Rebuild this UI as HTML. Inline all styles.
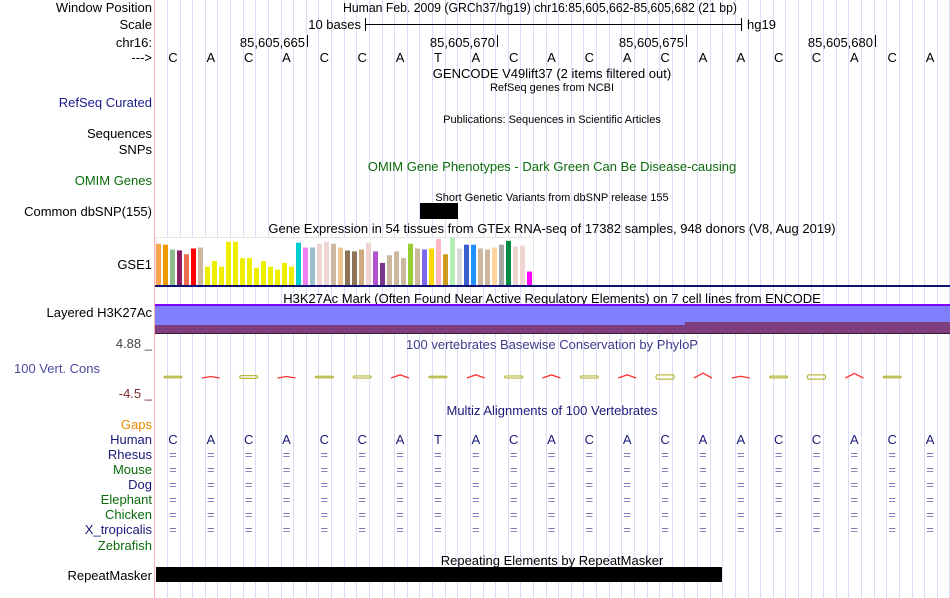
<!DOCTYPE html>
<html><head><meta charset="utf-8"><style>
body{margin:0;background:#fff;}
svg{display:block;font-family:"Liberation Sans",sans-serif;}
</style></head><body>
<svg id="c" width="950" height="598" viewBox="0 0 950 598" xmlns="http://www.w3.org/2000/svg">
<g id="grid"></g>
<line x1="154.5" y1="0" x2="154.5" y2="598" stroke="#ffb0b0" stroke-width="1"/>
<g font-size="13" text-anchor="end">
<text x="152" y="12">Window Position</text>
<text x="152" y="29">Scale</text>
<text x="152" y="47">chr16:</text>
<text x="152" y="62">---&gt;</text>
<text x="152" y="107" fill="#1a1a8c">RefSeq Curated</text>
<text x="152" y="138">Sequences</text>
<text x="152" y="154">SNPs</text>
<text x="152" y="185" fill="#0b6b0b">OMIM Genes</text>
<text x="152" y="216">Common dbSNP(155)</text>
<text x="152" y="269">GSE1</text>
<text x="152" y="317">Layered H3K27Ac</text>
<text x="152" y="348" fill="#444">4.88 _</text>
<text x="100" y="373" fill="#4a4aa0">100 Vert. Cons</text>
<text x="152" y="398" fill="#7a2a2a">-4.5 _</text>
<text x="152" y="429" fill="#ee8800">Gaps</text>
<text x="152" y="444" fill="#1a1a7a">Human</text>
<text x="152" y="459" fill="#1a1a7a">Rhesus</text>
<text x="152" y="474" fill="#0b6b0b">Mouse</text>
<text x="152" y="489" fill="#1a1a7a">Dog</text>
<text x="152" y="504" fill="#0b6b0b">Elephant</text>
<text x="152" y="519" fill="#0b6b0b">Chicken</text>
<text x="152" y="534" fill="#1a1a7a">X_tropicalis</text>
<text x="152" y="550" fill="#0b6b0b">Zebrafish</text>
<text x="152" y="580">RepeatMasker</text>
</g>
<g font-size="13" text-anchor="middle">
<text x="540" y="12" textLength="394" lengthAdjust="spacingAndGlyphs">Human Feb. 2009 (GRCh37/hg19) chr16:85,605,662-85,605,682 (21 bp)</text>
<text x="552" y="78">GENCODE V49lift37 (2 items filtered out)</text>
<text x="552" y="91" font-size="11">RefSeq genes from NCBI</text>
<text x="552" y="123" font-size="11">Publications: Sequences in Scientific Articles</text>
<text x="552" y="171" fill="#0b6b0b">OMIM Gene Phenotypes - Dark Green Can Be Disease-causing</text>
<text x="552" y="201" font-size="11">Short Genetic Variants from dbSNP release 155</text>
<text x="552" y="233">Gene Expression in 54 tissues from GTEx RNA-seq of 17382 samples, 948 donors (V8, Aug 2019)</text>
<text x="552" y="303">H3K27Ac Mark (Often Found Near Active Regulatory Elements) on 7 cell lines from ENCODE</text>
<text x="552" y="349" fill="#3c3c8c">100 vertebrates Basewise Conservation by PhyloP</text>
<text x="552" y="415" fill="#1a1a7a">Multiz Alignments of 100 Vertebrates</text>
<text x="552" y="565">Repeating Elements by RepeatMasker</text>
</g>
<g>
<text x="361" y="29" font-size="13" text-anchor="end">10 bases</text>
<line x1="365" y1="24.5" x2="741" y2="24.5" stroke="#000"/>
<line x1="365.5" y1="18" x2="365.5" y2="31" stroke="#000"/>
<line x1="741.5" y1="18" x2="741.5" y2="31" stroke="#000"/>
<text x="747" y="29" font-size="13">hg19</text>
</g>
<g id="ticks" font-size="13" text-anchor="end"></g>
<g id="seq" font-size="13" text-anchor="middle"></g>
<rect x="420" y="203" width="38" height="16" fill="#000"/>
<rect x="155.5" y="237.5" width="378" height="48" fill="#fff" stroke="#e6e6e6"/>
<g id="bars"></g>
<rect x="155" y="285" width="795" height="2" fill="#101070"/>
<g>
<rect x="155" y="304" width="795" height="2" fill="#8000ff"/>
<rect x="155" y="306" width="795" height="19" fill="#8080ff"/>
<rect x="155" y="325" width="530" height="8" fill="#7f3f7f"/>
<rect x="685" y="322" width="265" height="11" fill="#7f3f7f"/>
<rect x="155" y="333" width="795" height="1" fill="#3a1a2a"/>
</g>
<g id="cons"></g>
<g id="multiz" font-size="13" text-anchor="middle"></g>
<rect x="156" y="567" width="566" height="15" fill="#000"/>
</svg>
<script>
const bases = ["C","A","C","A","C","C","A","T","A","C","A","C","A","C","A","A","C","C","A","C","A"];
const tickLabels = ["85,605,665","85,605,670","85,605,675","85,605,680"];
const tickBaseIndex = [4,9,14,19];
const gtexValues = [43,42,37,36,32,38,39,19,25,19,45,45,28,28,18,25,19,16,23,19,44,39,39,43,45,43,39,36,35,37,44,35,23,31,35,28,43,38,37,38,48,32,49,38,42,42,38,37,39,42,46,40,41,14];
const gtexColors = ["#FFA54F","#EE9A00","#8FBC8F","#8B1C62","#EE6A50","#FF0000","#CDB79E","#EEEE00","#EEEE00","#EEEE00","#EEEE00","#EEEE00","#EEEE00","#EEEE00","#EEEE00","#EEEE00","#EEEE00","#EEEE00","#EEEE00","#EEEE00","#00CDCD","#EE82EE","#9AC0CD","#EED5D2","#EED5D2","#CDB79E","#EEC591","#8B7355","#8B7355","#CDAA7D","#EED5D2","#B452CD","#7A378B","#CDB79E","#CDB79E","#CDB79E","#9ACD32","#CDB79E","#7B68EE","#FFD700","#FFB6C1","#CD9B1D","#B4EEB4","#D9D9D9","#3A5FCD","#1E90FF","#CDB79E","#CDB79E","#FFD39B","#A6A6A6","#008B45","#EED5D2","#EED5D2","#FF00FF"];
const consValues = [0.3,0.3,0.8,0.3,0.3,0.6,0.9,0.4,0.9,0.6,0.9,0.6,0.9,1.2,1.4,0.5,0.5,1.2,1.3,0.3,0];
const speciesRows = ["Rhesus","Mouse","Dog","Elephant","Chicken","X_tropicalis"];

const NS="http://www.w3.org/2000/svg";
function mk(tag,attrs,parent){const e=document.createElementNS(NS,tag);for(const k in attrs)e.setAttribute(k,attrs[k]);parent.appendChild(e);return e;}
const X0=154, BW=795/21;
function baseX(i){return X0+BW*(i+0.5);}
function baseEdge(i){return X0+BW*i;}
const grid=document.getElementById('grid');
for(let x=167;x<950;x+=12.62){
  const l=mk('line',{x1:Math.round(x)+0.5,y1:0,x2:Math.round(x)+0.5,y2:598,stroke:'#dcdcf6'},grid);
  
  
}
const tk=document.getElementById('ticks');
tickLabels.forEach((t,k)=>{
  const x=Math.round(baseEdge(tickBaseIndex[k]))+2;
  const tx=mk('text',{x:x-2,y:47},tk);tx.textContent=t;
  
  
  const ln=mk('line',{x1:x+0.5,y1:35,x2:x+0.5,y2:47,stroke:'#000'},tk);
  
  
});
const sq=document.getElementById('seq'), mz=document.getElementById('multiz');
bases.forEach((b,i)=>{
  const t=mk('text',{x:baseX(i),y:62},sq);t.textContent=b;
  
  
  const h=mk('text',{x:baseX(i),y:444,fill:'#1a1a7a'},mz);h.textContent=b;
  
  
  speciesRows.forEach((s,r)=>{
    const e=mk('text',{x:baseX(i),y:459+15*r,fill:'#7878b8'},mz);e.textContent='=';
    
    
  });
});
const bars=document.getElementById('bars');
const gBase=285, gScale=48/50;
gtexValues.forEach((v,i)=>{
  const h=v*gScale;
  const r=mk('rect',{x:156+7*i,y:gBase-h,width:5,height:h,fill:gtexColors[i]},bars);
  
  
});
const cons=document.getElementById('cons');
const cy=377;
bases.forEach((b,i)=>{
  const v=consValues[i]; if(!v)return;
  const h=Math.max(1.5,v*3.5);
  const x=baseX(i)-9;
  let el;
  if(b==='A'){
    el=mk('polyline',{points:`${x},${cy+1} ${x+9},${cy+1-h} ${x+18},${cy+1}`,fill:'none',stroke:'#ff3030','stroke-width':1.3},cons);
  } else {
    el=mk('rect',{x:x,y:cy-h/2,width:18,height:h,rx:1.5,fill:'none',stroke:'#b8b840','stroke-width':1.2},cons);
  }
  
  
});
</script>
</body></html>
